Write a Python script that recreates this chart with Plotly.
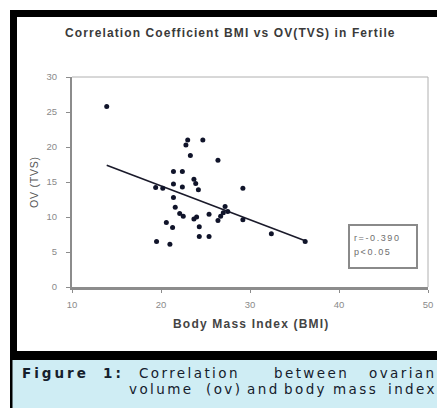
import plotly.graph_objects as go

W, H = 437, 408

# ---- data ----
bmi = [13.9, 23.0, 22.8, 24.7, 23.3, 26.4, 21.4, 22.4, 23.7, 23.9, 24.2,
       21.4, 22.4, 19.4, 20.2, 29.2, 21.4, 21.6, 22.1, 22.5, 23.7, 24.0,
       24.3, 25.4, 26.4, 26.7, 27.2, 27.5, 27.0, 29.2, 20.6, 21.3, 24.3,
       25.4, 32.4, 19.5, 21.0, 36.2]
ov = [25.8, 21.0, 20.3, 21.0, 18.8, 18.1, 16.5, 16.5, 15.4, 14.8, 13.9,
      14.7, 14.3, 14.2, 14.1, 14.1, 12.8, 11.4, 10.5, 10.1, 9.7, 10.0,
      8.6, 10.4, 9.5, 10.1, 11.5, 10.8, 10.6, 9.6, 9.2, 8.5, 7.2,
      7.2, 7.6, 6.5, 6.1, 6.5]
trend_x = [13.9, 36.2]
trend_y = [17.4, 6.6]
x_ticks = [10, 20, 30, 40, 50]
y_ticks = [0, 5, 10, 15, 20, 25, 30]
stats_lines = ["r=-0.390", "p<0.05"]
title = "Correlation Coefficient BMI vs OV(TVS) in Fertile"
x_title = "Body Mass Index (BMI)"
y_title = "OV (TVS)"
caption1 = [("Figure", True), ("1:", True), ("Correlation", False), ("between", False), ("ovarian", False)]
caption2 = ["volume", "(ov)", "and", "body", "mass", "index"]


def px(x):
    return x / W


def py(y):
    return 1 - y / H


def spaced(text, ls):
    return '<span style="letter-spacing:%spx">%s</span>' % (ls, text)


fig = go.Figure()
fig.add_trace(go.Scatter(x=trend_x, y=trend_y, mode="lines",
                         line=dict(color="#1a1a2a", width=1.6),
                         hoverinfo="skip", showlegend=False))
fig.add_trace(go.Scatter(x=bmi, y=ov, mode="markers",
                         marker=dict(color="#10142a", size=5),
                         showlegend=False))

plot_l, plot_r, plot_t, plot_b = 72, 428, 77, 287

shapes = [
    dict(type="rect", xref="paper", yref="paper", x0=px(10), x1=px(445),
         y0=py(415), y1=py(10), fillcolor="black", line=dict(width=0), layer="below"),
    dict(type="rect", xref="paper", yref="paper", x0=px(17), x1=px(445),
         y0=py(351), y1=py(17), fillcolor="white", line=dict(width=0), layer="below"),
    dict(type="rect", xref="paper", yref="paper", x0=px(12.5), x1=px(445),
         y0=py(415), y1=py(360), fillcolor="#cfedf4", line=dict(width=0), layer="below"),
    dict(type="line", xref="paper", yref="paper", x0=px(plot_l), x1=px(plot_r),
         y0=py(plot_t), y1=py(plot_t), line=dict(color="#b0b0b0", width=1)),
    dict(type="line", xref="paper", yref="paper", x0=px(plot_r), x1=px(plot_r),
         y0=py(plot_t), y1=py(plot_b), line=dict(color="#b0b0b0", width=1)),
    dict(type="rect", xref="paper", yref="paper", x0=px(349), x1=px(417),
         y0=py(268), y1=py(225), fillcolor="white", line=dict(color="#8a8a8a", width=2)),
]

ARIAL = "Liberation Sans, Arial"
annotations = [
    dict(text="<b>" + spaced(title, 1.1) + "</b>", x=px(231), y=py(33), xref="paper", yref="paper",
         showarrow=False, font=dict(family=ARIAL, size=12, color="#3a3a3a"),
         xanchor="center", yanchor="middle"),
    dict(text="<b>" + spaced(x_title, 1.2) + "</b>", x=px(251), y=py(324), xref="paper", yref="paper",
         showarrow=False, font=dict(family=ARIAL, size=12, color="#444"),
         xanchor="center", yanchor="middle"),
    dict(text=spaced(y_title, 0.8), x=px(34), y=py(182), xref="paper", yref="paper", textangle=-90,
         showarrow=False, font=dict(family=ARIAL, size=10.5, color="#555"),
         xanchor="center", yanchor="middle"),
]
for i, s in enumerate(stats_lines):
    annotations.append(dict(text=spaced(s, 1.6), x=px(352), y=py(238 + i * 14), xref="paper", yref="paper",
                            showarrow=False, xanchor="left", yanchor="middle",
                            font=dict(family=ARIAL, size=9, color="#6e6e6e")))

CAP_FONT = dict(family="DejaVu Sans", size=13.5, color="#15202c")
cap1_x = [20, 101, 137, 272, 367]
for (word, bold), x0 in zip(caption1, cap1_x):
    inner = spaced(word, 3.0 if bold else 2.4)
    if bold:
        inner = "<b>%s</b>" % inner
    annotations.append(dict(text=inner, x=px(x0), y=py(373), xref="paper", yref="paper",
                            showarrow=False, xanchor="left", yanchor="middle", font=CAP_FONT))
cap2_x = [127, 204, 245, 282, 331, 386]
for word, x0 in zip(caption2, cap2_x):
    annotations.append(dict(text=spaced(word, 2.4), x=px(x0), y=py(388.5), xref="paper", yref="paper",
                            showarrow=False, xanchor="left", yanchor="middle", font=CAP_FONT))

fig.update_layout(
    width=W, height=H, margin=dict(l=0, r=0, t=0, b=0),
    paper_bgcolor="white", plot_bgcolor="white",
    shapes=shapes, annotations=annotations,
    xaxis=dict(domain=[px(plot_l), px(plot_r)], range=[10, 50], tickvals=x_ticks,
               automargin=False, ticklabelstandoff=4,
               showgrid=False, zeroline=False, showline=True, linecolor="#8c8c8c", linewidth=3,
               ticks="outside", ticklen=3, tickcolor="#8c8c8c",
               tickfont=dict(family=ARIAL, size=9.5, color="#8a8a8a")),
    yaxis=dict(domain=[py(plot_b), py(plot_t)], range=[0, 30], tickvals=y_ticks,
               automargin=False, ticklabelstandoff=7,
               showgrid=False, zeroline=False, showline=True, linecolor="#8c8c8c", linewidth=2,
               ticks="outside", ticklen=4, tickcolor="#8c8c8c",
               tickfont=dict(family=ARIAL, size=9.5, color="#8a8a8a")),
)

fig.write_html("out.html", config={"displayModeBar": False},
               post_script="document.body.style.margin='0px';document.body.style.overflow='hidden';")
